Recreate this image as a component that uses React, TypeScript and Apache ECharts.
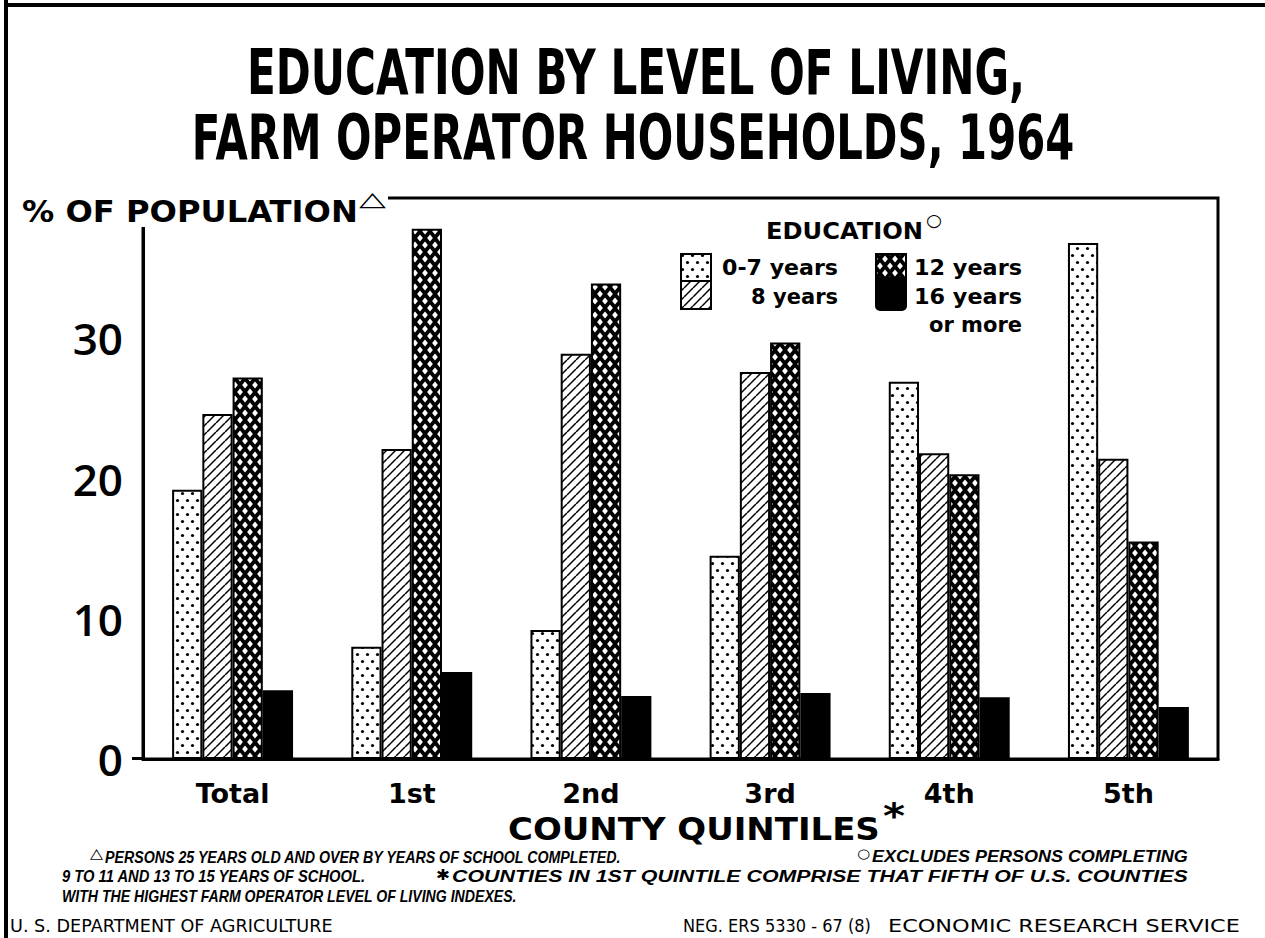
import React, { useEffect, useRef } from 'react';
import * as echarts from 'echarts';

// ---------- data ----------
const categories = ['Total', '1st', '2nd', '3rd', '4th', '5th'];
const seriesNames = ['0-7 years', '8 years', '12 years', '16 years or more'];
const years0to7 = [19.2, 8.0, 9.2, 14.5, 26.9, 36.8];
const years8 = [24.6, 22.1, 28.9, 27.6, 21.8, 21.4];
const years12 = [27.2, 37.8, 33.9, 29.7, 20.3, 15.5];
const years16plus = [4.9, 6.2, 4.5, 4.7, 4.4, 3.7];
const yTickLabels = ['0', '10', '20', '30'];

const titleLines = ['EDUCATION BY LEVEL OF LIVING,', 'FARM OPERATOR HOUSEHOLDS, 1964'];
const yAxisTitle = '% OF POPULATION';
const xAxisTitle = 'COUNTY QUINTILES';
const legendTitle = 'EDUCATION';
const footnote1a = 'PERSONS 25 YEARS OLD AND OVER BY YEARS OF SCHOOL COMPLETED.';
const footnote1b = 'EXCLUDES PERSONS COMPLETING';
const footnote2a = '9 TO 11 AND 13 TO 15 YEARS OF SCHOOL.';
const footnote2b = 'COUNTIES IN 1ST QUINTILE COMPRISE THAT FIFTH OF U.S. COUNTIES';
const footnote3 = 'WITH THE HIGHEST FARM OPERATOR LEVEL OF LIVING INDEXES.';
const creditLeft = 'U. S. DEPARTMENT OF AGRICULTURE';
const creditNeg = 'NEG. ERS 5330 - 67 (8)';
const creditRight = 'ECONOMIC RESEARCH SERVICE';

// ---------- patterns ----------
function makeCanvas(w: number, h: number, draw: (ctx: CanvasRenderingContext2D) => void) {
  const c = document.createElement('canvas');
  c.width = w;
  c.height = h;
  const ctx = c.getContext('2d')!;
  draw(ctx);
  return c;
}

function buildPatterns() {
  const dots = makeCanvas(10, 14, (ctx) => {
    ctx.fillStyle = '#fff';
    ctx.fillRect(0, 0, 10, 14);
    ctx.fillStyle = '#000';
    [[2.5, 3.5], [7.5, 10.5]].forEach(([x, y]) => {
      ctx.beginPath();
      ctx.arc(x, y, 1.6, 0, Math.PI * 2);
      ctx.fill();
    });
  });
  const hatch = makeCanvas(9, 9, (ctx) => {
    ctx.fillStyle = '#fff';
    ctx.fillRect(0, 0, 9, 9);
    ctx.strokeStyle = '#000';
    ctx.lineWidth = 1.5;
    for (let i = -1; i <= 1; i++) {
      ctx.beginPath();
      ctx.moveTo(i * 9, 9);
      ctx.lineTo(i * 9 + 9, 0);
      ctx.stroke();
    }
  });
  const cross = makeCanvas(10, 14, (ctx) => {
    ctx.fillStyle = '#000';
    ctx.fillRect(0, 0, 10, 14);
    ctx.fillStyle = '#fff';
    const hw = 2.9;
    const hh = 3.6;
    [[5, 7], [0, 0], [10, 0], [0, 14], [10, 14]].forEach(([x, y]) => {
      ctx.beginPath();
      ctx.moveTo(x, y - hh);
      ctx.lineTo(x + hw, y);
      ctx.lineTo(x, y + hh);
      ctx.lineTo(x - hw, y);
      ctx.closePath();
      ctx.fill();
    });
  });
  return {
    dots: { image: dots, repeat: 'repeat', imageWidth: 10, imageHeight: 14 },
    hatch: { image: hatch, repeat: 'repeat', imageWidth: 9, imageHeight: 9 },
    cross: { image: cross, repeat: 'repeat', imageWidth: 10, imageHeight: 14 },
    solid: '#000',
  };
}

// ---------- text helper ----------
const measureCanvas = document.createElement('canvas');
const mctx = measureCanvas.getContext('2d')!;

type TextSpec = {
  text: string;
  x: number;
  y: number;
  size: number;
  family: string;
  weight?: string;
  italic?: boolean;
  align?: 'left' | 'center' | 'right';
  width?: number;
};

function textEl(t: TextSpec) {
  const weight = t.weight ?? 'normal';
  const fstyle = t.italic ? 'italic' : 'normal';
  let scaleX = 1;
  if (t.width) {
    mctx.font = `${fstyle} ${weight} ${t.size}px "${t.family}"`;
    const w = mctx.measureText(t.text).width;
    if (w > 0) scaleX = t.width / w;
  }
  const align = t.align ?? 'left';
  return {
    type: 'text',
    x: t.x,
    y: t.y,
    scaleX,
    z: 110,
    style: {
      text: t.text,
      fontSize: t.size,
      fontFamily: t.family,
      fontWeight: weight,
      fontStyle: fstyle,
      fill: '#000',
      align,
      textAlign: align,
      verticalAlign: 'middle',
      textVerticalAlign: 'middle',
    },
  };
}

const BOLD = 'DejaVu Sans';
const ITAL = 'Liberation Sans';

export default function App() {
  const ref = useRef<HTMLDivElement>(null);

  useEffect(() => {
    const chart = echarts.init(ref.current!, null, { renderer: 'svg' });
    const p = buildPatterns();
    const fills = [p.dots, p.hatch, p.cross, p.solid];
    const dataSets = [years0to7, years8, years12, years16plus];

    const legendNameLines = seriesNames.map((n) => {
      const i = n.indexOf(' or ');
      return i >= 0 ? [n.slice(0, i), n.slice(i + 1)] : [n];
    });

    const fn = (text: string, x: number, y: number, width: number) =>
      textEl({ text, x, y, size: 16, family: ITAL, italic: true, weight: 'bold', width });

    const graphics: any[] = [
      // outer border (left and top)
      { type: 'rect', z: 120, shape: { x: 4, y: 0, width: 4, height: 938 }, style: { fill: '#000' } },
      { type: 'rect', z: 120, shape: { x: 4, y: 3, width: 1261, height: 4 }, style: { fill: '#000' } },
      // white mask behind y-axis title (hides frame corner)
      { type: 'rect', z: 105, shape: { x: 12, y: 184, width: 376, height: 43 }, style: { fill: '#fff' } },
      // bottom axis stub to the left of y-axis
      { type: 'rect', z: 105, shape: { x: 132, y: 757, width: 12, height: 3 }, style: { fill: '#000' } },
      // titles
      textEl({ text: titleLines[0], x: 636, y: 73, size: 62, family: BOLD, weight: 'bold', align: 'center', width: 778 }),
      textEl({ text: titleLines[1], x: 633, y: 137, size: 62, family: BOLD, weight: 'bold', align: 'center', width: 883 }),
      // y axis title
      textEl({ text: yAxisTitle, x: 22, y: 211, size: 30, family: BOLD, weight: 'bold', width: 336 }),
      textEl({ text: '△', x: 359, y: 199, size: 20, family: BOLD, weight: 'bold', width: 27 }),
      // x axis title
      textEl({ text: xAxisTitle, x: 508, y: 829, size: 32, family: BOLD, weight: 'bold', width: 372 }),
      textEl({ text: '*', x: 883, y: 816, size: 36, family: BOLD, weight: 'bold', width: 22 }),
      // legend title
      textEl({ text: legendTitle, x: 766, y: 231, size: 23, family: BOLD, weight: 'bold', width: 157 }),
      textEl({ text: '○', x: 926, y: 220, size: 17, family: BOLD, weight: 'bold', width: 16 }),
      // legend swatches
      { type: 'rect', z: 108, shape: { x: 681, y: 254, width: 30, height: 27 }, style: { fill: fills[0], stroke: '#000', lineWidth: 2 } },
      { type: 'rect', z: 108, shape: { x: 681, y: 281, width: 30, height: 28 }, style: { fill: fills[1], stroke: '#000', lineWidth: 2 } },
      { type: 'rect', z: 108, shape: { x: 876, y: 254, width: 30, height: 25 }, style: { fill: fills[2], stroke: '#000', lineWidth: 2 } },
      { type: 'rect', z: 108, shape: { x: 876, y: 278, width: 30, height: 32, r: [0, 0, 4, 4] }, style: { fill: fills[3], stroke: '#000', lineWidth: 2 } },
      // legend labels
      textEl({ text: legendNameLines[0][0], x: 838, y: 268, size: 21, family: BOLD, weight: 'bold', align: 'right', width: 116 }),
      textEl({ text: legendNameLines[1][0], x: 838, y: 297, size: 21, family: BOLD, weight: 'bold', align: 'right' }),
      textEl({ text: legendNameLines[2][0], x: 914, y: 268, size: 21, family: BOLD, weight: 'bold', width: 108 }),
      textEl({ text: legendNameLines[3][0], x: 914, y: 297, size: 21, family: BOLD, weight: 'bold', width: 108 }),
      textEl({ text: legendNameLines[3][1], x: 1022, y: 325, size: 21, family: BOLD, weight: 'bold', align: 'right' }),
      // footnotes
      textEl({ text: '△', x: 90, y: 853, size: 14, family: BOLD, weight: 'bold', width: 13 }),
      fn(footnote1a, 105, 857, 517),
      textEl({ text: '○', x: 857, y: 853, size: 13, family: BOLD, weight: 'bold', width: 13 }),
      fn(footnote1b, 872, 857, 316),
      fn(footnote2a, 62, 876, 304),
      textEl({ text: '✱', x: 436, y: 875, size: 15, family: BOLD, weight: 'bold', width: 14 }),
      fn(footnote2b, 452, 876, 736),
      fn(footnote3, 62, 896, 455),
      // credits
      textEl({ text: creditLeft, x: 10, y: 926, size: 17, family: BOLD, width: 323 }),
      textEl({ text: creditNeg, x: 683, y: 926, size: 17, family: BOLD, width: 188 }),
      textEl({ text: creditRight, x: 888, y: 926, size: 17, family: BOLD, width: 352 }),
    ];

    const option: any = {
      animation: false,
      backgroundColor: '#fff',
      grid: {
        left: 143,
        right: 47,
        top: 198,
        bottom: 179,
        show: true,
        borderColor: '#000',
        borderWidth: 3,
        backgroundColor: 'transparent',
      },
      xAxis: {
        type: 'category',
        data: categories,
        axisLine: { show: true, lineStyle: { color: '#000', width: 3 } },
        axisTick: { show: false },
        axisLabel: {
          color: '#000',
          fontFamily: BOLD,
          fontWeight: 'bold',
          fontSize: 27,
          margin: 21,
        },
        splitLine: { show: false },
      },
      yAxis: {
        type: 'value',
        min: 0,
        max: 40,
        interval: 10,
        axisLine: { show: true, lineStyle: { color: '#000', width: 3 } },
        axisTick: { show: false },
        splitLine: { show: false },
        axisLabel: {
          color: '#000',
          fontFamily: 'Open Sans',
          fontWeight: 600,
          fontSize: 44,
          margin: 20,
          formatter: (v: number) => {
            const s = String(v);
            return yTickLabels.includes(s) ? s : '';
          },
        },
      },
      series: dataSets.map((d, i) => ({
        name: seriesNames[i],
        type: 'bar',
        data: d,
        barGap: '0%',
        barCategoryGap: '32.5%',
        itemStyle: {
          color: fills[i],
          borderColor: '#000',
          borderWidth: 2,
        },
      })),
      graphic: { elements: graphics },
    };

    chart.setOption(option);
    return () => chart.dispose();
  }, []);

  return (
    <div
      ref={ref}
      style={{ position: 'fixed', left: 0, top: 0, width: 1265, height: 938, background: '#fff' }}
    />
  );
}
